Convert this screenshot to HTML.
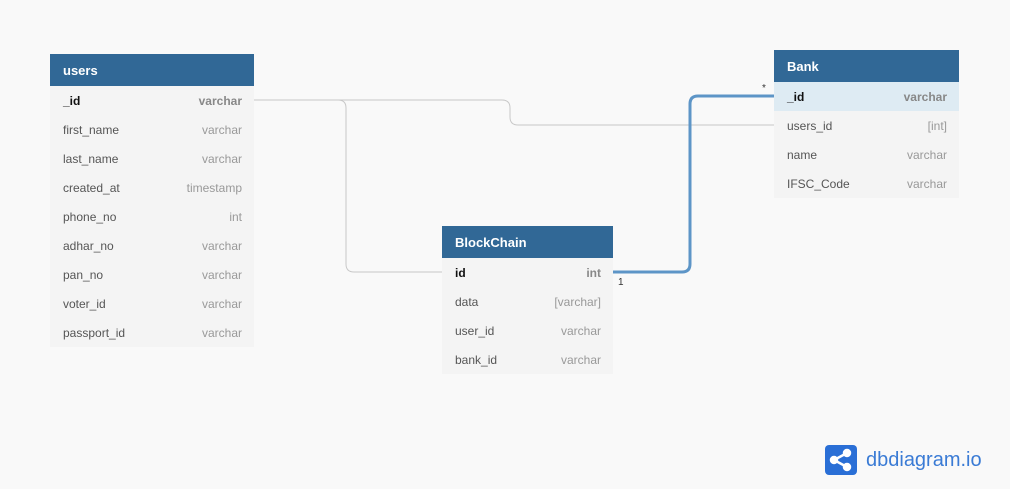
<!DOCTYPE html><html><head><style>
body{margin:0;width:1010px;height:489px;background:#f9f9f9;font-family:"Liberation Sans",sans-serif;position:relative;overflow:hidden}
.t{position:absolute;background:#f4f4f4}
.h{height:32px;background:#316896;color:#fff;font-weight:bold;font-size:13px;line-height:34px;padding-left:13px}
.r{height:29px;line-height:31px;font-size:12px;color:#555;padding:0 12px 0 13px;display:flex;justify-content:space-between}
.r span:last-child{color:#999}
.pk{color:#111;font-weight:bold}.pk span:last-child{color:#888}
</style></head><body>
<svg width="1010" height="489" style="position:absolute;left:0;top:0">
<path d="M254 100 H338 Q346 100 346 108 V264 Q346 272 354 272 H442" fill="none" stroke="#c8c8c8" stroke-width="1"/>
<path d="M254 100 H502 Q510 100 510 108 V117 Q510 125 518 125 H774" fill="none" stroke="#c8c8c8" stroke-width="1"/>
<path d="M612 272 H682 Q690 272 690 264 V104 Q690 96 698 96 H774" fill="none" stroke="#5d95c7" stroke-width="3"/>
<text x="762" y="91" font-size="10" font-family="Liberation Sans" fill="#333">*</text>
<text x="618" y="285" font-size="10" font-family="Liberation Sans" fill="#333">1</text>
</svg>
<div class="t" style="left:50px;top:54px;width:204px">
<div class="h">users</div>
<div class="r pk"><span>_id</span><span>varchar</span></div>
<div class="r"><span>first_name</span><span>varchar</span></div>
<div class="r"><span>last_name</span><span>varchar</span></div>
<div class="r"><span>created_at</span><span>timestamp</span></div>
<div class="r"><span>phone_no</span><span>int</span></div>
<div class="r"><span>adhar_no</span><span>varchar</span></div>
<div class="r"><span>pan_no</span><span>varchar</span></div>
<div class="r"><span>voter_id</span><span>varchar</span></div>
<div class="r"><span>passport_id</span><span>varchar</span></div>
</div>
<div class="t" style="left:774px;top:50px;width:185px">
<div class="h">Bank</div>
<div class="r pk" style="background:#deebf3"><span>_id</span><span>varchar</span></div>
<div class="r"><span>users_id</span><span>[int]</span></div>
<div class="r"><span>name</span><span>varchar</span></div>
<div class="r"><span>IFSC_Code</span><span>varchar</span></div>
</div>
<div class="t" style="left:442px;top:226px;width:171px">
<div class="h">BlockChain</div>
<div class="r pk"><span>id</span><span>int</span></div>
<div class="r"><span>data</span><span>[varchar]</span></div>
<div class="r"><span>user_id</span><span>varchar</span></div>
<div class="r"><span>bank_id</span><span>varchar</span></div>
</div>
<div style="position:absolute;left:825px;top:445px;width:32px;height:30px;background:#2a6fd6;border-radius:4px">
<svg width="32" height="30"><g stroke="#fff" stroke-width="2.5" fill="#fff"><line x1="9" y1="15" x2="22" y2="8"/><line x1="9" y1="15" x2="22" y2="22"/><circle cx="9" cy="15" r="3"/><circle cx="22" cy="8" r="3"/><circle cx="22" cy="22" r="3"/></g></svg></div>
<div style="position:absolute;left:866px;top:449px;font-size:20px;color:#3a7bd5">dbdiagram.io</div>
</body></html>
